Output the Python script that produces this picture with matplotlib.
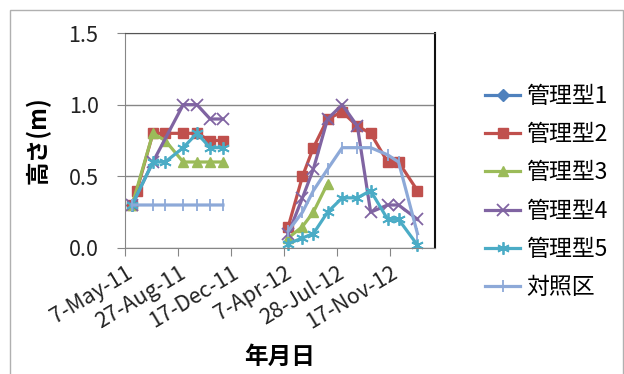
import numpy as np
import matplotlib
matplotlib.use('Agg')
import matplotlib.pyplot as plt
import matplotlib.dates as mdates
from matplotlib.patches import Rectangle
from datetime import datetime

plt.rcParams['font.family'] = ['Noto Sans CJK JP', 'DejaVu Sans']

# Survey dates, first and second season
dates_2011 = ['2011-05-22', '2011-06-01', '2011-07-05', '2011-07-31',
              '2011-09-07', '2011-10-06', '2011-11-03', '2011-11-30']
dates_2012 = ['2012-04-16', '2012-05-16', '2012-06-08', '2012-07-08',
              '2012-08-08', '2012-09-09', '2012-10-07', '2012-11-12',
              '2012-12-05', '2013-01-14']

# Plant height (m), None = not measured
type1_2011 = [0.3, None, None, None, None, None, None, None]
type1_2012 = [None] * 10
type2_2011 = [0.3, 0.4, 0.8, 0.8, 0.8, 0.8, 0.75, 0.75]
type2_2012 = [0.15, 0.5, 0.7, 0.9, 0.95, 0.85, 0.8, 0.6, 0.6, 0.4]
type3_2011 = [0.3, None, 0.8, 0.75, 0.6, 0.6, 0.6, 0.6]
type3_2012 = [0.07, 0.15, 0.25, 0.45, None, None, None, None, None, None]
type4_2011 = [0.3, None, 0.6, None, 1.0, 1.0, 0.9, 0.9]
type4_2012 = [0.1, 0.35, 0.55, 0.9, 1.0, 0.85, 0.25, 0.3, 0.3, 0.2]
type5_2011 = [0.3, None, 0.6, 0.6, 0.7, 0.8, 0.7, 0.7]
type5_2012 = [0.03, 0.07, 0.1, 0.25, 0.35, 0.35, 0.4, 0.2, 0.2, 0.02]
control_2011 = [0.3, None, 0.3, 0.3, 0.3, 0.3, 0.3, 0.3]
control_2012 = [0.12, 0.25, 0.4, 0.55, 0.7, 0.7, 0.7, 0.65, 0.6, 0.1]

series_names = ['管理型1', '管理型2', '管理型3', '管理型4', '管理型5', '対照区']

tick_dates = ['2011-05-07', '2011-08-27', '2011-12-17',
              '2012-04-07', '2012-07-28', '2012-11-17']
tick_labels = ['7-May-11', '27-Aug-11', '17-Dec-11',
               '7-Apr-12', '28-Jul-12', '17-Nov-12']


def to_date(s):
    return datetime.strptime(s, '%Y-%m-%d')


def season_points(dates, values):
    # drop unmeasured dates so the line joins the remaining points
    xs = [to_date(d) for d, v in zip(dates, values) if v is not None]
    ys = [v for v in values if v is not None]
    return xs, ys


def joined(v11, v12):
    x1, y1 = season_points(dates_2011, v11)
    x2, y2 = season_points(dates_2012, v12)
    # a NaN between the seasons breaks the line
    gap = [to_date('2012-02-01')] if x1 and x2 else []
    ygap = [np.nan] if gap else []
    return x1 + gap + x2, y1 + ygap + y2


styles = [
    dict(color='#4F81BD', marker='D', ms=6),
    dict(color='#C0504D', marker='s', ms=7.5),
    dict(color='#9BBB59', marker='^', ms=7.5),
    dict(color='#8064A2', marker='x', ms=8, mew=1.3),
    dict(color='#4BACC6', marker=(6, 2, 0), ms=9, mew=1.3),
    dict(color='#8DA9D8', marker='|', ms=8, mew=1.3),
]
all_values = [(type1_2011, type1_2012), (type2_2011, type2_2012),
              (type3_2011, type3_2012), (type4_2011, type4_2012),
              (type5_2011, type5_2012), (control_2011, control_2012)]

fig = plt.figure(figsize=(6.24, 3.74), dpi=100)
fig.patches.append(Rectangle((10 / 624, -0.1), 613 / 624, 1.1 - 10 / 374,
                             transform=fig.transFigure, fill=False,
                             edgecolor='#B0B0B0', linewidth=1.0))
ax = fig.add_axes([125 / 624, 1 - 248 / 374, 310 / 624, 215 / 374])

for name, (v11, v12), st in zip(series_names, all_values, styles):
    xs, ys = joined(v11, v12)
    ax.plot(xs, ys, linewidth=2.3, label=name, clip_on=False, **st)

ax.set_xlim(to_date('2011-05-07'), to_date('2013-02-20'))
ax.set_ylim(0, 1.5)
ax.set_yticks([0.0, 0.5, 1.0, 1.5])
ax.set_yticklabels(['0.0', '0.5', '1.0', '1.5'])
ax.set_xticks([mdates.date2num(to_date(d)) for d in tick_dates])
ax.set_xticklabels(tick_labels, rotation=31, ha='right',
                   rotation_mode='anchor')
ax.tick_params(axis='both', labelsize=15.5, color='#868686', length=6,
               labelcolor='#222222')
ax.tick_params(axis='x', pad=4)
ax.tick_params(axis='y', pad=13)

ax.grid(axis='y', color='#868686', linewidth=1.0)
ax.set_axisbelow(True)
for side in ['left', 'bottom']:
    ax.spines[side].set_color('#868686')
ax.spines['top'].set_color('#555555')
ax.spines['right'].set_color('#111111')
ax.spines['right'].set_linewidth(1.5)

ax.set_ylabel('高さ(m)', fontsize=17, fontweight='bold')
ax.set_xlabel('年月日', fontsize=17, fontweight='bold')
ax.yaxis.set_label_coords(-0.24, 0.5)
ax.xaxis.set_label_coords(0.5, -0.45)

ax.legend(loc='center left', bbox_to_anchor=(485 / 624, 1 - 192 / 374),
          bbox_transform=fig.transFigure, frameon=False, fontsize=16.5,
          handlelength=1.53, handletextpad=0.25, labelspacing=0.66,
          borderpad=0, borderaxespad=0)

plt.savefig('out.png', dpi=100)
